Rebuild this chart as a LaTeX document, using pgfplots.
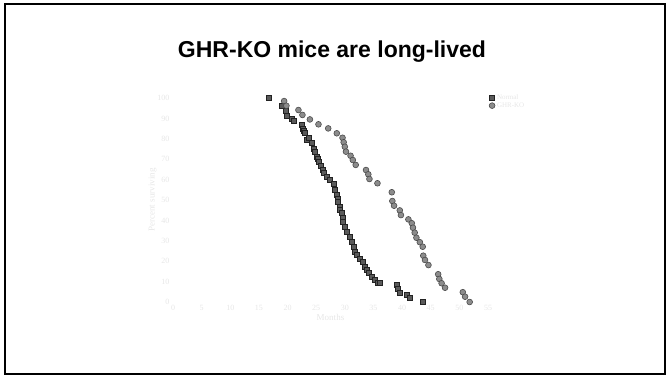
\documentclass[border=0pt]{standalone}
\usepackage{pgfplots}
\pgfplotsset{compat=1.18}
\usepackage{fontspec}
\setmainfont{Liberation Serif}
\newfontfamily\titlefont{Liberation Sans}
\definecolor{faint}{HTML}{E6E6E6}
\definecolor{sqfill}{HTML}{5A5A5A}
\definecolor{sqdraw}{HTML}{222222}
\definecolor{cifill}{HTML}{8C8C8C}
\definecolor{cidraw}{HTML}{4A4A4A}
\begin{document}
\begin{tikzpicture}[x=1pt,y=1pt]
\path[use as bounding box] (0,0) rectangle (670,378);
\draw[line width=2pt] (5,4) rectangle (665,374);
\node[font=\titlefont\bfseries\fontsize{23}{26}\selectfont, anchor=base] at (332,320) {GHR-KO mice are long-lived};
\begin{axis}[
  at={(173pt,76pt)}, anchor=south west,
  scale only axis, width=315pt, height=204pt,
  xmin=0, xmax=55, ymin=0, ymax=100,
  xtick={0,5,...,55}, ytick={0,10,...,100},
  axis line style={draw=none}, tick style={draw=none},
  clip=false,
  /pgf/number format/assume math mode=true,
  tick label style={font=\fontsize{8}{9}\selectfont, text=faint},
  xlabel={Months}, ylabel={Percent surviving},
  label style={font=\fontsize{9}{10}\selectfont, text=faint},
  xlabel style={yshift=4pt},
  ylabel style={yshift=-6pt},
  legend style={at={(1,1)}, anchor=north west, xshift=-2pt, yshift=8pt, draw=none, fill=none,
    font=\fontsize{7}{8}\selectfont, text=faint, row sep=-2pt},
  legend cell align=left,
]
\addplot[only marks, mark=square*, mark size=2.5pt, mark options={fill=sqfill, draw=sqdraw, line width=0.6pt}] coordinates {
(16.8,100) (19.0,96.2) (19.7,93.6) (19.9,91.3) (20.7,90.0) (21.1,88.7) (22.5,87.1) (22.6,85.1)
(22.8,84.0) (23.0,82.7) (23.4,79.4) (23.7,80.6) (24.2,77.8) (24.5,75.3) (24.8,73.7) (25.1,71.2)
(25.3,70.0) (25.5,68.8) (25.8,66.8) (26.1,64.7) (26.4,63.1) (26.9,61.4) (27.4,59.8) (28.0,57.7)
(28.3,54.9) (28.6,52.5) (28.7,50.8) (28.8,49.2) (29.1,46.7) (29.2,45.2) (29.4,43.5) (29.6,41.5)
(29.7,39.4) (30.0,36.9) (30.3,34.5) (30.9,32.0) (31.2,29.6) (31.5,27.1) (31.8,24.7) (32.1,23.0)
(32.6,21.4) (33.2,19.8) (33.5,17.3) (33.8,15.7) (34.1,14.1) (34.7,12.4) (35.3,10.8) (35.8,9.6)
(36.1,9.2) (39.0,8.3) (39.3,6.4) (39.6,4.3) (40.8,3.4) (41.4,2.1) (43.7,0)
};
\addlegendentry{Normal}
\addplot[only marks, mark=*, mark size=2.9pt, mark options={fill=cifill, draw=cidraw, line width=0.6pt}] coordinates {
(19.4,98.5) (19.8,96.2) (21.9,94.1) (22.6,91.7) (23.9,89.5) (25.4,87.1) (27.1,85.1) (28.6,82.7)
(29.6,80.5) (29.8,78.3) (30.0,76.1) (30.2,73.7) (31.0,71.7) (31.4,69.6) (31.9,67.2) (33.7,64.7)
(34.1,62.6) (34.3,60.3) (35.7,58.2) (38.2,53.8) (38.3,49.5) (38.6,47.2) (39.6,44.9) (39.8,42.6)
(41.1,40.5) (41.7,38.6) (41.9,36.4) (42.2,34.0) (42.5,31.5) (43.1,29.3) (43.6,27.1) (43.7,22.7)
(44.0,20.6) (44.6,18.1) (46.3,13.6) (46.5,11.3) (46.9,9.2) (47.5,7.0) (50.6,4.8) (51.0,2.6)
(51.8,0)
};
\addlegendentry{GHR-KO}
\end{axis}
\end{tikzpicture}
\end{document}
